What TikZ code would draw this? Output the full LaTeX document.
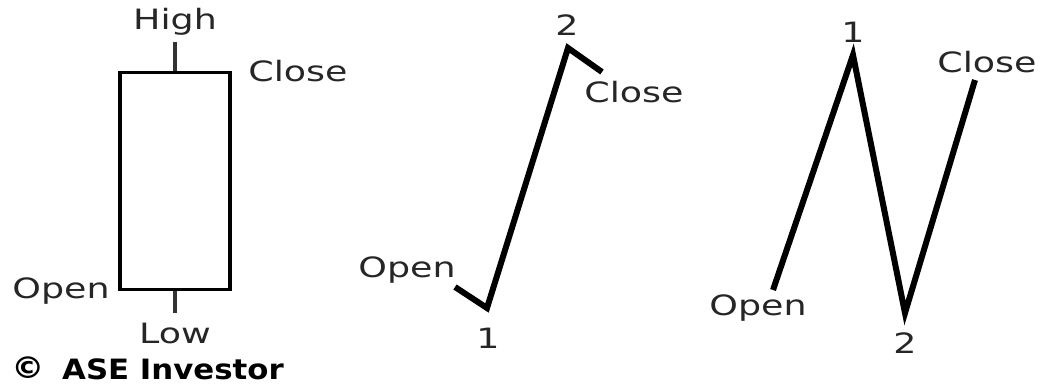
\documentclass[tikz,border=0pt]{standalone}
\usepackage{fontspec}
\newfontfamily\lblfont[FakeStretch=1.3]{DejaVu Sans}
\newfontfamily\brandfont[FakeStretch=1.1]{DejaVu Sans Bold}
\begin{document}
\begin{tikzpicture}[x=1pt,y=-1pt,
  lbl/.style={font=\lblfont\fontsize{28}{28}\selectfont, text=black!85, inner sep=0pt},
  zig/.style={line width=6pt, line join=miter, line cap=butt},
  wick/.style={line width=3.5pt, black!80}]
\useasboundingbox (0,0) rectangle (1042,387);
% candlestick
\node[draw, line width=3.2pt, minimum width=110pt, minimum height=217pt, inner sep=0pt] (candle) at (175,181) {};
\coordinate (hightop) at (175,42);
\coordinate (lowbot) at (175,313);
\draw[wick] (candle.north) -- (hightop);
\draw[wick] (candle.south) -- (lowbot);
\node[lbl] (high) at (175,22) {High};
\node[lbl] (close1) at (298,71) {Close};
\node[lbl] (open1) at (61,291) {Open};
\node[lbl] (low) at (175,333) {Low};
% brand
\node[inner sep=0pt, font=\brandfont\fontsize{28}{28}\selectfont, anchor=west] (brand) at (62,369) {ASE Investor};
\node[inner sep=0pt, font=\brandfont\fontsize{30}{30}\selectfont] (logo) at (28,368) {\textcopyright};
% middle chart
\coordinate (m0) at (455,287);
\coordinate (m1) at (487,308);
\coordinate (m2) at (568,48);
\coordinate (m3) at (602,72);
\draw[zig] (m0) -- (m1) -- (m2) -- (m3);
\node[lbl] (mopen) at (407,270) {Open};
\node[lbl] (mone) at (488,338) {1};
\node[lbl] (mtwo) at (567,25) {2};
\node[lbl] (mclose) at (634,92) {Close};
% right chart
\coordinate (r0) at (773,290);
\coordinate (r1) at (853,55);
\coordinate (r2) at (905,313);
\coordinate (r3) at (975,80);
\draw[zig] (r0) -- (r1) -- (r2) -- (r3);
\node[lbl] (ropen) at (758,308) {Open};
\node[lbl] (rone) at (853,32) {1};
\node[lbl] (rtwo) at (905,343) {2};
\node[lbl] (rclose) at (987,62) {Close};
\end{tikzpicture}
\end{document}
